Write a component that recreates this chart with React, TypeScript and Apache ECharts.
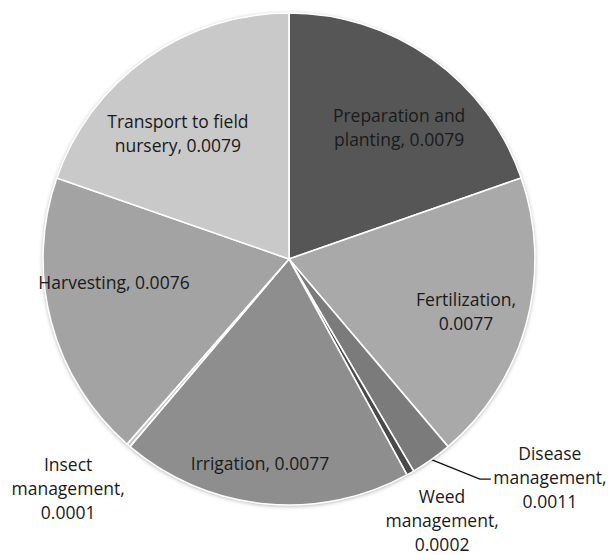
import React, { useEffect, useRef } from "react";
import * as echarts from "echarts";

// ---- Data ----
const categories = [
  "Preparation and planting",
  "Fertilization",
  "Disease management",
  "Weed management",
  "Irrigation",
  "Insect management",
  "Harvesting",
  "Transport to field nursery",
];
const values = [0.0079, 0.0077, 0.0011, 0.0002, 0.0077, 0.0001, 0.0076, 0.0079];

// label text templates ({v} = value), line breaks as in the reference
const labelTemplates = [
  "Preparation and\nplanting, {v}",
  "Fertilization,\n{v}",
  "Disease\nmanagement,\n{v}",
  "Weed\nmanagement,\n{v}",
  "Irrigation, {v}",
  "Insect\nmanagement,\n{v}",
  "Harvesting, {v}",
  "Transport to field\nnursery, {v}",
];

// ---- Style ----
const colors = ["#565656", "#a9a9a9", "#7b7b7b", "#4a4a4a", "#8e8e8e", "#c4c4c4", "#a3a3a3", "#c9c9c9"];
// label placement in polar form: [angle clockwise from top (deg), distance from centre (px)]
const labelPolar: [number, number][] = [
  [39.8, 172],
  [106.4, 184.5],
  [129.9, 340],
  [149.6, 302.5],
  [188.1, 206],
  [224, 318],
  [262.5, 176.5],
  [318.6, 168],
];
const CX = 289;
const CY = 259;
const R = 246;

function polar(angleDeg: number, dist: number): [number, number] {
  const a = (angleDeg * Math.PI) / 180;
  return [CX + dist * Math.sin(a), CY - dist * Math.cos(a)];
}

export default function App() {
  const ref = useRef<HTMLDivElement>(null);
  useEffect(() => {
    if (!ref.current) return;
    const chart = echarts.init(ref.current, undefined, { renderer: "svg" });
    const total = values.reduce((s, v) => s + v, 0);
    const midAngles: number[] = [];
    let acc = 0;
    values.forEach((v) => {
      midAngles.push(((acc + v / 2) / total) * 360);
      acc += v;
    });

    chart.setOption({
      animation: false,
      backgroundColor: "#ffffff",
      graphic: [
        {
          type: "circle",
          z: 0,
          silent: true,
          shape: { cx: CX, cy: CY, r: R },
          style: {
            fill: "#ffffff",
            shadowBlur: 4,
            shadowOffsetY: 1,
            shadowColor: "rgba(0,0,0,0.35)",
          },
        },
      ],
      series: [
        {
          type: "pie",
          z: 2,
          center: [CX, CY],
          radius: [0, R],
          startAngle: 90,
          clockwise: true,
          avoidLabelOverlap: false,
          itemStyle: { borderColor: "#ffffff", borderWidth: 1.6 },
          label: {
            show: true,
            position: "inside",
            fontFamily: "'Open Sans', 'Noto Sans', sans-serif",
            fontSize: 17.5,
            lineHeight: 24,
            color: "#1a1a1a",
            align: "center",
            verticalAlign: "middle",
            overflow: "none",
            formatter: (p: any) =>
              labelTemplates[p.dataIndex].replace("{v}", Number(p.value).toFixed(4)),
          },
          labelLine: { show: false },
          emphasis: { disabled: true },
          labelLayout: (params: any) => {
            const i = params.dataIndex;
            const [x, y] = polar(labelPolar[i][0], labelPolar[i][1]);
            const res: any = { x, y, align: "center", verticalAlign: "middle" };
            if (i === 2) {
              const start = polar(midAngles[i], R);
              res.labelLinePoints = [start, [x - 70, y + 2], [x - 59, y + 2]];
            }
            return res;
          },
          data: categories.map((name, i) => {
            const item: any = {
              name,
              value: values[i],
              itemStyle: { color: colors[i] },
            };
            if (i === 2) {
              item.label = { position: "outside" };
              item.labelLine = {
                show: true,
                lineStyle: { color: "#111111", width: 1.4 },
              };
            } else if (i === 3 || i === 5) {
              item.label = { position: "outside" };
              item.labelLine = { show: false };
            }
            return item;
          }),
        },
      ],
    });
    return () => chart.dispose();
  }, []);

  return (
    <div
      ref={ref}
      style={{ position: "fixed", left: 0, top: 0, width: 608, height: 555, background: "#fff" }}
    />
  );
}
